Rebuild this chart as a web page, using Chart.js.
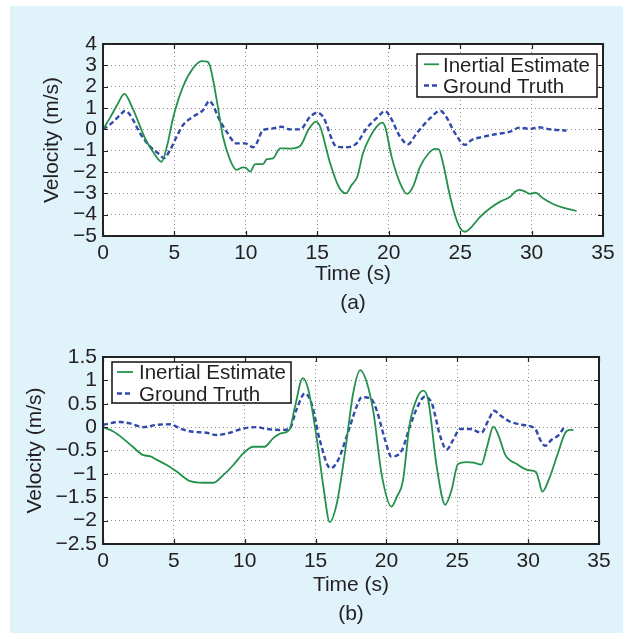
<!DOCTYPE html>
<html>
<head>
<meta charset="utf-8">
<script src="https://cdn.jsdelivr.net/npm/chart.js@4.4.0/dist/chart.umd.min.js"></script>
<style>
body{margin:0;background:#fff;width:633px;height:639px;position:relative;overflow:hidden}
#box{position:absolute;left:10px;top:6px;width:613px;height:627px;background:#e0f2fa}
canvas{position:absolute;left:0}
#ca{top:0}
#cb{top:320px}
</style>
</head>
<body>
<div id="box"></div>
<canvas id="ca" width="633" height="320"></canvas>
<canvas id="cb" width="633" height="319"></canvas>
<script>
// (a) inertial estimate
const tA_ins = [0, 0.5, 1.0, 1.5, 2.0, 3.0, 3.5, 4.1, 4.5, 4.9,
  5.6, 6.3, 6.9, 7.3, 7.5, 8.0, 8.4, 8.9, 9.35, 9.8,
  10.0, 10.3, 10.65, 11.2, 11.45, 11.9, 12.4, 13.1, 13.8, 14.4,
  14.9, 15.2, 15.9, 16.5, 17.0, 17.4, 17.8, 18.2, 18.7, 19.25,
  19.55, 19.75, 20.2, 20.8, 21.3, 21.7, 22.2, 22.8, 23.25, 23.5,
  23.8, 24.3, 24.75, 25.1, 25.35, 25.7, 26.4, 27.1, 27.8, 28.5,
  28.85, 29.15, 29.55, 29.9, 30.25, 30.8, 31.5, 32.2, 33.15]
const vA_ins = [0, 0.55, 1.15, 1.66, 1.1, -0.5, -1.05, -1.52, -0.73, 0.52,
  2.0, 2.86, 3.2, 3.17, 2.94, 1.22, -0.35, -1.44, -1.9, -1.78,
  -1.8, -1.98, -1.63, -1.63, -1.41, -1.36, -0.89, -0.9, -0.78, 0.0,
  0.36, 0.12, -1.59, -2.69, -3.0, -2.61, -2.22, -1.12, -0.35, 0.2,
  0.31, 0.12, -1.28, -2.53, -3.03, -2.69, -1.75, -1.12, -0.92, -0.94,
  -1.59, -3.16, -4.25, -4.72, -4.8, -4.64, -4.1, -3.7, -3.39, -3.16,
  -2.92, -2.84, -2.92, -3.03, -2.97, -3.23, -3.5, -3.67, -3.83]

// (a) ground truth
const tA_gt = [0, 0.5, 1.2, 1.55, 1.9, 2.6, 3.3, 4.0, 4.25, 4.7,
  5.15, 5.6, 6.3, 7.0, 7.45, 7.7, 8.05, 8.65, 9.35, 9.95,
  10.5, 10.75, 11.2, 11.7, 12.5, 13.1, 13.8, 14.5, 15.0, 15.4,
  16.35, 16.95, 17.75, 18.45, 19.15, 19.75, 20.1, 20.8, 21.35, 21.95,
  22.9, 23.6, 23.95, 24.65, 25.35, 25.8, 26.6, 27.55, 28.5, 29.15,
  29.9, 30.45, 31.3, 32.45]
const vA_gt = [0, 0.23, 0.67, 0.87, 0.67, -0.19, -0.81, -1.2, -1.36, -0.97,
  -0.35, 0.2, 0.59, 0.9, 1.33, 1.14, 0.59, -0.11, -0.66, -0.66,
  -0.84, -0.66, -0.03, 0.02, 0.12, 0.0, 0.0, 0.59, 0.78, 0.59,
  -0.81, -0.84, -0.66, 0.05, 0.52, 0.86, 0.59, -0.35, -0.7, -0.19,
  0.52, 0.87, 0.67, -0.19, -0.73, -0.5, -0.35, -0.22, -0.11, 0.08,
  0.02, 0.1, 0.0, -0.06]

// (b) inertial estimate
const tB_ins = [0, 0.7, 1.4, 2.1, 2.85, 3.3, 3.8, 4.5, 5.2, 6.1,
  7.1, 7.8, 8.5, 9.2, 9.9, 10.6, 11.4, 12.0, 12.6, 13.15,
  13.55, 14.1, 14.5, 15.1, 15.55, 16.0, 16.5, 17.1, 17.65, 18.15,
  18.6, 19.1, 19.65, 20.35, 20.75, 21.15, 21.65, 22.2, 22.6, 22.95,
  23.55, 24.15, 24.6, 25.05, 25.65, 26.15, 26.7, 27.1, 27.55, 27.9,
  28.4, 29.2, 30.0, 30.55, 30.75, 31.0, 31.45, 32.1, 32.6, 32.95, 33.2]
const vB_ins = [0, -0.09, -0.24, -0.42, -0.6, -0.62, -0.7, -0.81, -0.95, -1.15,
  -1.19, -1.19, -1.02, -0.81, -0.56, -0.42, -0.42, -0.24, -0.13, -0.06,
  0.44, 1.05, 0.79, -0.28, -1.27, -2.03, -1.63, -0.49, 0.72, 1.22,
  0.97, 0.29, -0.99, -1.7, -1.48, -1.17, 0.08, 0.65, 0.78, 0.58,
  -0.85, -1.66, -1.34, -0.79, -0.75, -0.76, -0.8, -0.42, 0.01, -0.17,
  -0.6, -0.79, -0.92, -0.96, -1.13, -1.38, -1.13, -0.56, -0.13, -0.06, -0.06]

// (b) ground truth
const tB_gt = [0, 1.2, 1.9, 2.85, 3.8, 4.75, 5.45, 6.35, 7.3, 8.0,
  8.95, 9.9, 10.85, 11.55, 12.5, 13.15, 13.65, 14.25, 14.75, 15.3,
  16.05, 16.6, 17.3, 17.9, 18.25, 18.85, 19.3, 19.9, 20.35, 21.1,
  21.65, 22.25, 22.7, 23.2, 23.8, 24.25, 24.7, 25.2, 25.9, 26.7,
  27.2, 27.6, 28.0, 28.7, 29.55, 30.5, 30.85, 31.2, 31.65, 32.15, 32.5]
const vB_gt = [0.05, 0.11, 0.08, 0.0, 0.05, 0.06, -0.03, -0.1, -0.12, -0.17,
  -0.12, -0.03, 0.0, -0.04, -0.06, -0.04, 0.37, 0.72, 0.47, -0.28,
  -0.88, -0.7, -0.1, 0.44, 0.64, 0.62, 0.37, -0.27, -0.63, -0.49,
  0.01, 0.47, 0.65, 0.51, -0.2, -0.48, -0.28, -0.04, -0.04, -0.12,
  0.15, 0.35, 0.26, 0.12, 0.05, -0.04, -0.27, -0.4, -0.27, -0.17, -0.02]

const seriesNames = ["Inertial Estimate", "Ground Truth"]
const xTitle = "Time (s)"
const yTitle = "Velocity (m/s)"

const GREEN = "#23904c"
const BLUE = "#3049ad"
const FONT = "'Liberation Sans', Arial, Helvetica, sans-serif"

Chart.defaults.font.family = FONT
Chart.defaults.color = "#231f20"

function pts(t, v){
    return t.map((x, i) => ({x: x, y: v[i]}))
}

/* white plot area, matlab style box + inward ticks */
const axesBox = {
    id: "axesBox",
    beforeDraw(chart){
        const a = chart.chartArea, c = chart.ctx
        c.save()
        c.fillStyle = "#fff"
        c.fillRect(a.left, a.top, a.right - a.left, a.bottom - a.top)
        c.restore()
    },
    afterDatasetsDraw(chart){
        const a = chart.chartArea, c = chart.ctx
        const sx = chart.scales.x, sy = chart.scales.y
        c.save()
        c.strokeStyle = "#222"
        c.lineWidth = 1.2
        c.beginPath()
        sx.ticks.forEach(t => {
            const p = Math.round(sx.getPixelForValue(t.value)) + 0.5
            c.moveTo(p, a.bottom); c.lineTo(p, a.bottom - 5)
            c.moveTo(p, a.top); c.lineTo(p, a.top + 5)
        })
        sy.ticks.forEach(t => {
            const p = Math.round(sy.getPixelForValue(t.value)) + 0.5
            c.moveTo(a.left, p); c.lineTo(a.left + 5, p)
            c.moveTo(a.right, p); c.lineTo(a.right - 5, p)
        })
        c.stroke()
        c.lineWidth = 2
        c.strokeRect(a.left, a.top, a.right - a.left, a.bottom - a.top)
        c.restore()
    }
}

/* boxed legend inside the axes */
const boxLegend = {
    id: "boxLegend",
    afterDraw(chart, args, o){
        const c = chart.ctx
        c.save()
        c.fillStyle = "#fff"
        c.fillRect(o.x, o.y, o.w, o.h)
        c.strokeStyle = "#111"
        c.lineWidth = 1.5
        c.strokeRect(o.x, o.y, o.w, o.h)
        chart.data.datasets.forEach((ds, i) => {
            const y = o.rows[i]
            c.strokeStyle = ds.borderColor
            c.lineWidth = ds.borderWidth
            c.setLineDash(ds.borderDash || [])
            c.beginPath()
            c.moveTo(o.lineX[0], y); c.lineTo(o.lineX[1], y)
            c.stroke()
            c.setLineDash([])
            c.fillStyle = "#231f20"
            c.font = "20.5px " + FONT
            c.textBaseline = "alphabetic"
            c.fillText(ds.label, o.textX, y + 7.3)
        })
        c.restore()
    }
}

function makeChart(id, ins, gt, cfg){

    new Chart(document.getElementById(id), {

        type: "line",

        data: {
            datasets: [{
                label: seriesNames[0],
                data: ins,
                borderColor: GREEN,
                borderWidth: 1.8,
                pointRadius: 0,
                cubicInterpolationMode: "monotone",
                fill: false
            }, {
                label: seriesNames[1],
                data: gt,
                borderColor: BLUE,
                borderWidth: 2.4,
                borderDash: [5, 3],
                pointRadius: 0,
                cubicInterpolationMode: "monotone",
                fill: false
            }]
        },

        options: {
            responsive: false,
            animation: false,
            devicePixelRatio: 1,
            layout: {padding: {top: cfg.top, right: cfg.right, bottom: 0, left: 0}},
            plugins: {
                legend: {display: false},
                tooltip: {enabled: false},
                boxLegend: cfg.legend
            },
            scales: {
                x: {
                    type: "linear",
                    min: 0, max: 35,
                    afterFit: s => { s.height = cfg.xh },
                    ticks: {stepSize: 5, padding: 5, maxRotation: 0, autoSkip: false, font: {size: 21}},
                    grid: {color: "#8c8c8c", lineWidth: 1, drawTicks: false},
                    border: {display: false, dash: [1, 3]},
                    title: {
                        display: true,
                        text: [xTitle, cfg.tag],
                        font: {size: 21, lineHeight: 1.35},
                        padding: {top: 0, bottom: cfg.tagPad}
                    }
                },
                y: {
                    min: cfg.ymin, max: cfg.ymax,
                    afterFit: s => { s.width = 103 },
                    ticks: {
                        stepSize: cfg.step, padding: 6, autoSkip: false, font: {size: 21},
                        callback: v => String(Number(v.toFixed(1))).replace("-", "\u2212")
                    },
                    grid: {color: "#8c8c8c", lineWidth: 1, drawTicks: false},
                    border: {display: false, dash: [1, 3]},
                    title: {
                        display: true,
                        text: yTitle,
                        font: {size: 21, lineHeight: 1.2},
                        padding: {top: cfg.yPad, bottom: 0}
                    }
                }
            }
        },

        plugins: [axesBox, boxLegend]
    })
}

/* (a) */
makeChart("ca", pts(tA_ins, vA_ins), pts(tA_gt, vA_gt), {
    top: 44, right: 30, xh: 84, tag: "(a)", tagPad: 3, yPad: 40,
    ymin: -5, ymax: 4, step: 1,
    legend: {x: 417, y: 54, w: 180, h: 43, rows: [64.3, 85.5], lineX: [424, 439], textX: 443}
})

/* (b) */
makeChart("cb", pts(tB_ins, vB_ins), pts(tB_gt, vB_gt), {
    top: 37, right: 34, xh: 95, tag: "(b)", tagPad: 11, yPad: 23,
    ymin: -2.5, ymax: 1.5, step: 0.5,
    legend: {x: 112, y: 42, w: 179, h: 41, rows: [52, 73.5], lineX: [117, 133], textX: 139}
})
</script>
</body>
</html>
